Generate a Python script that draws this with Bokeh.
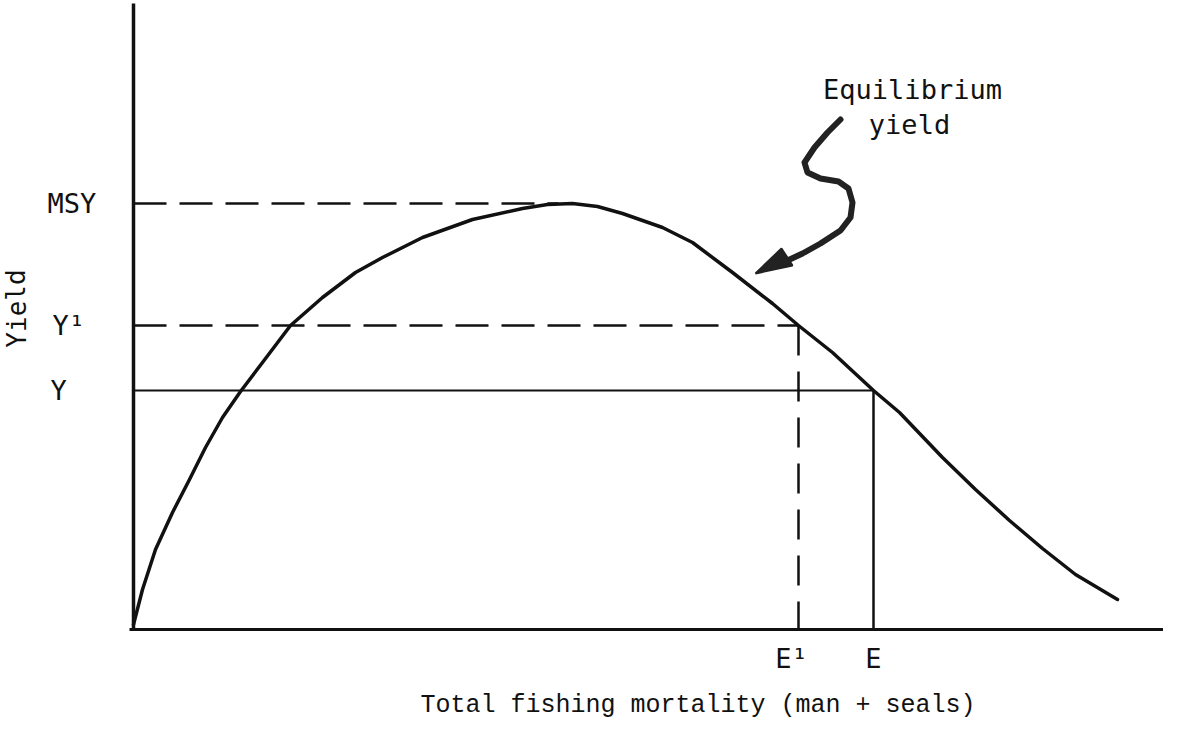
from bokeh.plotting import figure
from bokeh.models import Range1d
from bokeh.core.properties import value
from bokeh.embed import file_html
from bokeh.resources import INLINE

# ---- data (arbitrary units: effort on x, yield on y) ----
effort = [0.00, 0.09, 0.22, 0.39, 0.56, 0.72, 0.89, 1.07, 1.29, 1.57, 1.89, 2.22,
          2.49, 2.89, 3.39, 3.89, 4.14, 4.39, 4.64, 4.89, 5.29, 5.59, 5.99, 6.39,
          6.65, 6.99, 7.40, 7.66, 8.09, 8.42, 8.76, 9.09, 9.42, 9.84]
yield_eq = [0.05, 0.40, 0.80, 1.17, 1.50, 1.82, 2.12, 2.38, 2.67, 3.04, 3.32, 3.57,
            3.72, 3.92, 4.10, 4.21, 4.25, 4.26, 4.23, 4.16, 4.02, 3.87, 3.57, 3.26,
            3.04, 2.77, 2.39, 2.17, 1.72, 1.40, 1.09, 0.81, 0.55, 0.30]

MSY = 4.26
MSY_E = 4.25
Y1 = 3.04
Y = 2.39
E1 = 6.65
E = 7.40

y_tick_labels = ["MSY", "Y\u00b9", "Y"]
x_tick_labels = ["E\u00b9", "E"]
x_title = "Total fishing mortality (man + seals)"
y_title = "Yield"
note_lines = ["Equilibrium", "yield"]

# hand-drawn arrow pointing at the curve
arrow_x = [7.07, 6.94, 6.81, 6.71, 6.74, 6.87, 7.05, 7.15, 7.19, 7.17, 7.07, 6.87, 6.69, 6.54]
arrow_y = [5.10, 4.97, 4.82, 4.67, 4.57, 4.51, 4.48, 4.41, 4.27, 4.12, 3.99, 3.86, 3.76, 3.69]
head_x = [6.22, 6.48, 6.59]
head_y = [3.56, 3.81, 3.64]

X_AXIS_END = 10.36
Y_AXIS_TOP = 6.26

p = figure(width=1163, height=720,
           x_range=Range1d(-1.33, 10.30), y_range=Range1d(-0.91, 6.29),
           output_backend="svg", toolbar_location=None, min_border=0)
p.axis.visible = False
p.grid.visible = False
p.outline_line_color = None
p.background_fill_color = "white"
p.border_fill_color = "white"

ink = "#111111"

# axes
p.line([0, 0], [0, Y_AXIS_TOP], line_color=ink, line_width=3.5)
p.line([-0.04, X_AXIS_END], [0, 0], line_color=ink, line_width=3)

# reference lines
p.line([0, MSY_E], [MSY, MSY], line_color=ink, line_width=2.5, line_dash="33 13")
p.line([0, E1], [Y1, Y1], line_color=ink, line_width=2.5, line_dash="33 13")
p.line([E1, E1], [Y1, 0], line_color=ink, line_width=2.5, line_dash="30 16")
p.line([0, E], [Y, Y], line_color=ink, line_width=2)
p.line([E, E], [Y, 0], line_color=ink, line_width=2.5)

# equilibrium yield curve
p.line(effort, yield_eq, line_color=ink, line_width=3.5, line_join="round", line_cap="round")

# arrow
p.line(arrow_x, arrow_y, line_color="#222222", line_width=6, line_join="round", line_cap="round")
p.patch(head_x, head_y, fill_color="#222222", line_color="#222222", line_width=2)

lab_font = value("DejaVu Sans Mono")

# y labels
p.text(x=[-0.86, -0.81, -0.83], y=[MSY, Y1, Y], text=y_tick_labels,
       text_font=lab_font, text_font_size="27px", text_color=ink,
       text_align="left", text_baseline="middle")
# x labels
p.text(x=[E1, E], y=[-0.29, -0.29], text=x_tick_labels, x_offset=[-7, 0],
       text_font=lab_font, text_font_size="27px", text_color=ink,
       text_align="center", text_baseline="middle")
# axis titles
p.text(x=[2.87], y=[-0.76], text=[x_title],
       text_font=value("Liberation Mono"), text_font_size="25px", text_color=ink,
       text_align="left", text_baseline="middle")
p.text(x=[-1.17], y=[3.21], text=[y_title], angle=1.5708,
       text_font=lab_font, text_font_size="26px", text_color=ink,
       text_align="center", text_baseline="middle")
# annotation
p.text(x=[7.79, 7.76], y=[5.40, 5.05], text=note_lines,
       text_font=lab_font, text_font_size="27px", text_color=ink,
       text_align="center", text_baseline="alphabetic")

open("out.html", "w").write(file_html(p, INLINE))
